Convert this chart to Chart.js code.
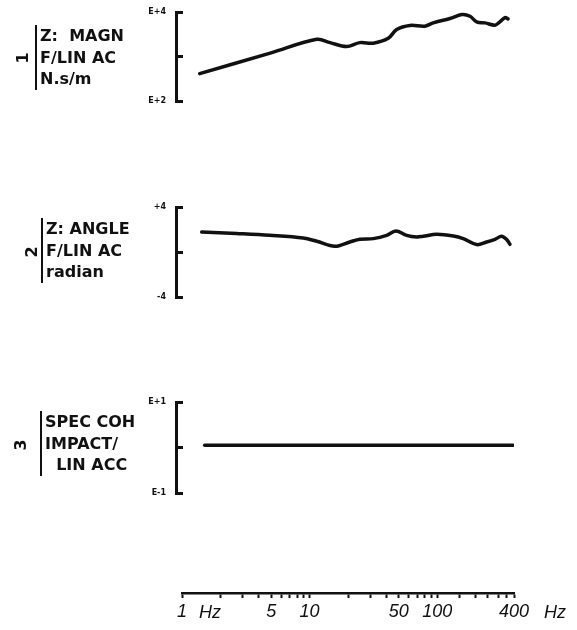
<!DOCTYPE html>
<html><head><meta charset="utf-8">
<script src="https://cdn.jsdelivr.net/npm/chart.js@4/dist/chart.umd.min.js"></script>
<style>
body{margin:0;background:#fff;width:577px;height:630px;position:relative;overflow:hidden;font-family:"DejaVu Sans",sans-serif;color:#111}
.cv{position:absolute;left:0;width:577px}
.lbl{position:absolute;font-weight:bold;font-size:16px;line-height:21.5px;border-left:2px solid #111;padding-left:3px;white-space:pre}
.num{position:absolute;font-weight:bold;font-size:16px;transform:translate(-50%,-50%) rotate(-90deg)}
.hz{position:absolute;font-family:"Liberation Sans",sans-serif;font-style:italic;font-size:18px;transform:translateY(-50%)}
</style></head><body>
<div class="cv" style="top:0;height:115px"><canvas id="c1"></canvas></div>
<div class="cv" style="top:195px;height:115px"><canvas id="c2"></canvas></div>
<div class="cv" style="top:390px;height:115px"><canvas id="c3"></canvas></div>
<div class="cv" style="top:560px;height:70px"><canvas id="c4"></canvas></div>

<div class="num" style="left:22px;top:58px">1</div>
<div class="lbl" style="left:35px;top:25px">Z:  MAGN
F/LIN AC
N.s/m</div>
<div class="num" style="left:31px;top:252px">2</div>
<div class="lbl" style="left:41px;top:218px">Z: ANGLE
F/LIN AC
radian</div>
<div class="num" style="left:20px;top:445px">3</div>
<div class="lbl" style="left:40px;top:411px">SPEC COH
IMPACT/
  LIN ACC</div>
<span class="hz" style="left:199px;top:612px">Hz</span>
<span class="hz" style="left:544px;top:612px">Hz</span>

<script>
// ---- data ----
const freqMagn = [1.38, 5, 11.4, 14.5, 19.5, 24.8, 31.6, 41.4, 48.2, 61.2, 80.2, 93.2, 126, 156, 181, 204, 237, 284, 310, 340, 359];
const magn     = [413, 1210, 2440, 2050, 1670, 2050, 1990, 2560, 4060, 4990, 4810, 5700, 7130, 8750, 8020, 5990, 5700, 5060, 5990, 7510, 6980];
const freqAngle = [1.43, 2.68, 4.89, 8.93, 11.4, 15.8, 20.7, 24.8, 31.6, 40.2, 47.5, 57.7, 69.1, 77.8, 99, 134, 160, 204, 244, 284, 320, 351, 372];
const angle     = [1.78, 1.64, 1.48, 1.24, 0.95, 0.51, 0.89, 1.13, 1.19, 1.48, 1.87, 1.48, 1.33, 1.40, 1.57, 1.42, 1.19, 0.66, 0.89, 1.13, 1.40, 1.10, 0.68];
const freqCoh = [1.51, 10, 100, 393];
const coh     = [1.12, 1.12, 1.12, 1.12];

const magnTicks = [100, 1000, 10000];
const magnTickLabels = ['E+2', '', 'E+4'];
const angleTicks = [-4, 0, 4];
const angleTickLabels = ['-4', '', '+4'];
const cohTicks = [0.1, 1, 10];
const cohTickLabels = ['E-1', '', 'E+1'];
const freqTicks = [1, 2, 3, 4, 5, 6, 7, 8, 9, 10, 20, 30, 40, 50, 60, 70, 80, 90, 100, 150, 200, 250, 300, 350, 400];
const freqTickLabels = {1: '1', 5: '5', 10: '10', 50: '50', 100: '100', 400: '400'};

const INK = '#111';

function panel(id, xs, ys, yType, yMin, yMax, yTicks, yLabels, padBottom) {
  new Chart(document.getElementById(id), {
    type: 'line',
    data: { datasets: [{ data: xs.map((x, i) => ({x: x, y: ys[i]})), borderColor: INK, borderWidth: 3.5,
      pointRadius: 0, tension: 0.35, fill: false, borderCapStyle: 'round', borderJoinStyle: 'round' }] },
    options: {
      responsive: true, maintainAspectRatio: false, animation: false,
      plugins: { legend: { display: false }, tooltip: { enabled: false } },
      layout: { padding: { top: 12, bottom: padBottom, left: 0, right: 63 } },
      scales: {
        x: { type: 'logarithmic', min: 0.9, max: 400, display: false },
        y: { type: yType, min: yMin, max: yMax,
          afterBuildTicks: a => { a.ticks = yTicks.map(v => ({value: v})); },
          afterFit: s => { s.width = 176; s.paddingTop = 0; s.paddingBottom = 0; },
          ticks: { autoSkip: false, padding: 17, color: INK,
            font: { family: 'DejaVu Sans', size: 8, weight: 'bold' },
            callback: (v) => { const i = yTicks.indexOf(v); return i >= 0 ? yLabels[i] : ''; } },
          grid: { drawOnChartArea: false, tickLength: -7, tickWidth: 3, color: INK },
          border: { display: true, width: 3, color: INK } }
      }
    }
  });
}

panel('c1', freqMagn, magn, 'logarithmic', 100, 10000, magnTicks, magnTickLabels, 14);
panel('c2', freqAngle, angle, 'linear', -4, 4, angleTicks, angleTickLabels, 13);
panel('c3', freqCoh, coh, 'logarithmic', 0.1, 10, cohTicks, cohTickLabels, 12);

new Chart(document.getElementById('c4'), {
  type: 'line',
  data: { datasets: [] },
  options: {
    responsive: true, maintainAspectRatio: false, animation: false,
    plugins: { legend: { display: false }, tooltip: { enabled: false } },
    layout: { padding: { top: 20, bottom: 0, left: 182, right: 63 } },
    scales: {
      y: { display: false, min: 0, max: 1 },
      x: { type: 'logarithmic', min: 1, max: 400, position: 'bottom',
        afterBuildTicks: a => { a.ticks = freqTicks.map(v => ({value: v})); },
        afterFit: s => { s.height = 37; },
        ticks: { autoSkip: false, maxRotation: 0, padding: 3, color: INK,
          font: { family: 'Liberation Sans', size: 18, style: 'italic' },
          callback: v => freqTickLabels[v] || '' },
        grid: { drawOnChartArea: false, tickLength: 5, tickWidth: 2, color: INK },
        border: { display: true, width: 2.5, color: INK } }
    }
  }
});
</script>
</body></html>
